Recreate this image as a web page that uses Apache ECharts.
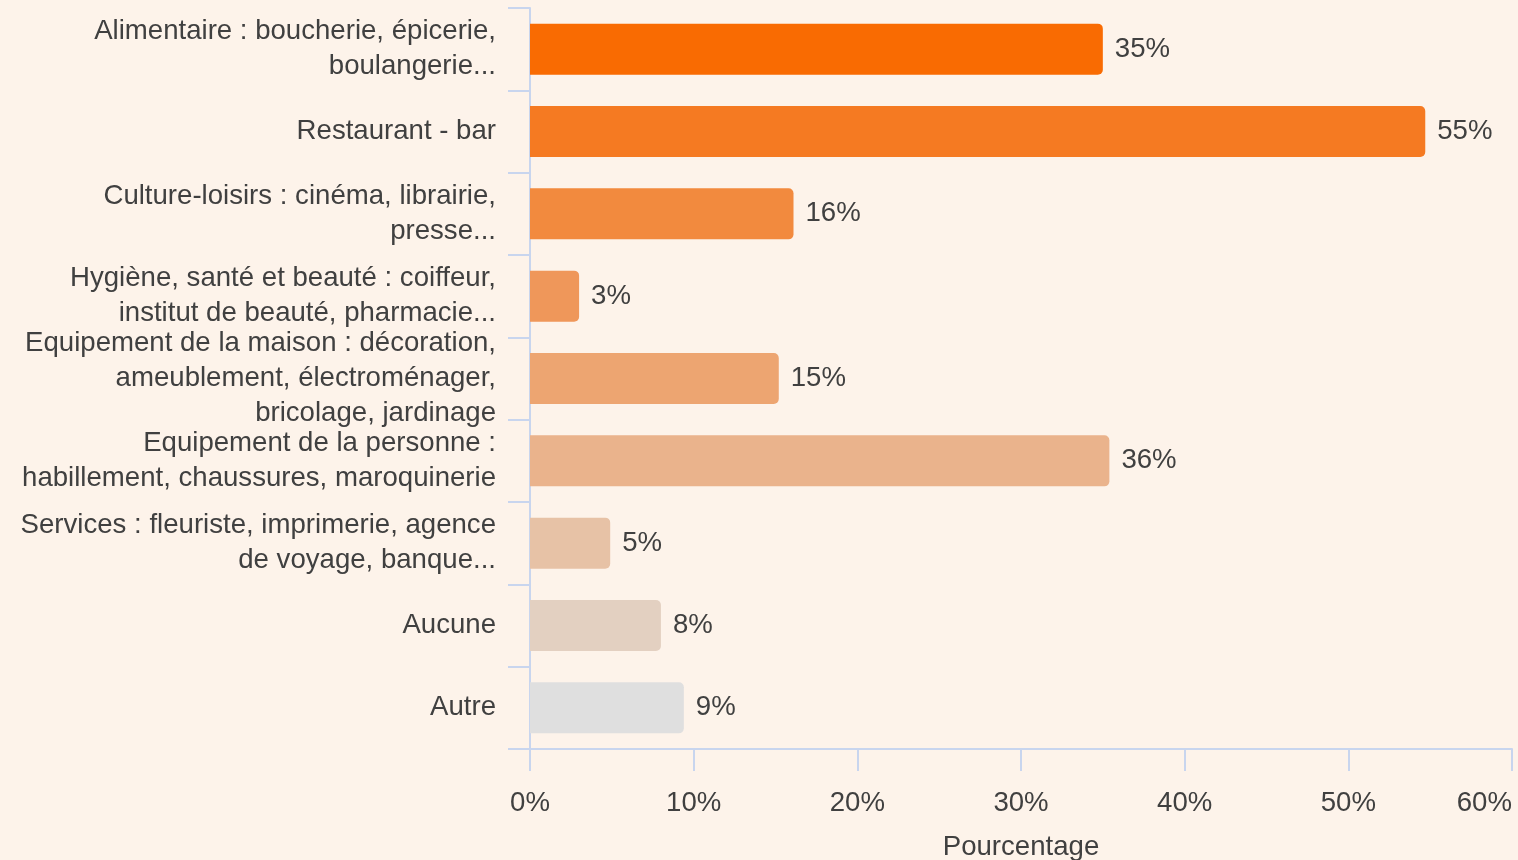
<!DOCTYPE html>
<html>
<head>
<meta charset="utf-8">
<script src="https://cdn.jsdelivr.net/npm/echarts@6/dist/echarts.min.js"></script>
<style>
  html, body { margin: 0; padding: 0; background: #fdf3ea; }
  #chart { width: 1518px; height: 860px; }
</style>
</head>
<body>
<div id="chart"></div>
<script>
  const categories = [
    'Alimentaire : boucherie, épicerie,\nboulangerie...',
    'Restaurant - bar',
    'Culture-loisirs : cinéma, librairie,\npresse...',
    'Hygiène, santé et beauté : coiffeur,\ninstitut de beauté, pharmacie...',
    'Equipement de la maison : décoration,\nameublement, électroménager,\nbricolage, jardinage',
    'Equipement de la personne :\nhabillement, chaussures, maroquinerie',
    'Services : fleuriste, imprimerie, agence\nde voyage, banque...',
    'Aucune',
    'Autre'
  ]
  // bar lengths
  const values = [35.0, 54.7, 16.1, 3.0, 15.2, 35.4, 4.9, 8.0, 9.4]
  // printed labels
  const valueLabels = ['35%', '55%', '16%', '3%', '15%', '36%', '5%', '8%', '9%']
  const barColors = ['#f96b02', '#f57a22', '#f28a3e', '#ef975a', '#eda571', '#eab38c', '#e7c2a6', '#e3d0c1', '#dfdfdf']

  const font = '"Liberation Sans", Arial, sans-serif'
  const fontSize = 27.6
  const textColor = '#404040'
  const axisColor = '#c8d5ee'

  const chart = echarts.init(document.getElementById('chart'))
  const option = {
    backgroundColor: '#fdf3ea',
    animation: false,
    textStyle: { fontFamily: font },
    grid: {
      left: 530,
      right: 6,
      top: 8,
      bottom: 111,
      containLabel: false,
      outerBoundsMode: 'none'
    },
    xAxis: {
      type: 'value',
      min: 0,
      max: 60,
      interval: 10,
      name: 'Pourcentage',
      nameLocation: 'middle',
      nameGap: 84,
      nameTextStyle: { color: textColor, fontSize: fontSize, fontFamily: font },
      axisLine: { show: true, lineStyle: { color: axisColor, width: 2 } },
      axisTick: { show: true, length: 22, lineStyle: { color: axisColor, width: 2 } },
      axisLabel: {
        color: textColor,
        fontSize: fontSize,
        fontFamily: font,
        margin: 40,
        alignMaxLabel: 'right',
        formatter: '{value}%'
      },
      splitLine: { show: false }
    },
    yAxis: {
      type: 'category',
      inverse: true,
      data: categories,
      axisLine: { show: true, lineStyle: { color: axisColor, width: 2 } },
      axisTick: { show: true, length: 22, lineStyle: { color: axisColor, width: 2 } },
      axisLabel: {
        color: textColor,
        fontSize: fontSize,
        fontFamily: font,
        lineHeight: 35,
        align: 'right',
        verticalAlign: 'middle',
        margin: 34,
        padding: [7, 0, 0, 0],
        backgroundColor: 'rgba(0,0,0,0)'
      }
    },
    series: [{
      type: 'bar',
      barCategoryGap: '38%',
      data: values.map((v, i) => ({
        value: v,
        itemStyle: { color: barColors[i], borderRadius: [0, 5, 5, 0] }
      })),
      label: {
        show: true,
        position: 'right',
        distance: 12,
        color: textColor,
        fontSize: fontSize,
        fontFamily: font,
        formatter: (p) => valueLabels[p.dataIndex]
      }
    }]
  }
  chart.setOption(option)
</script>
</body>
</html>
